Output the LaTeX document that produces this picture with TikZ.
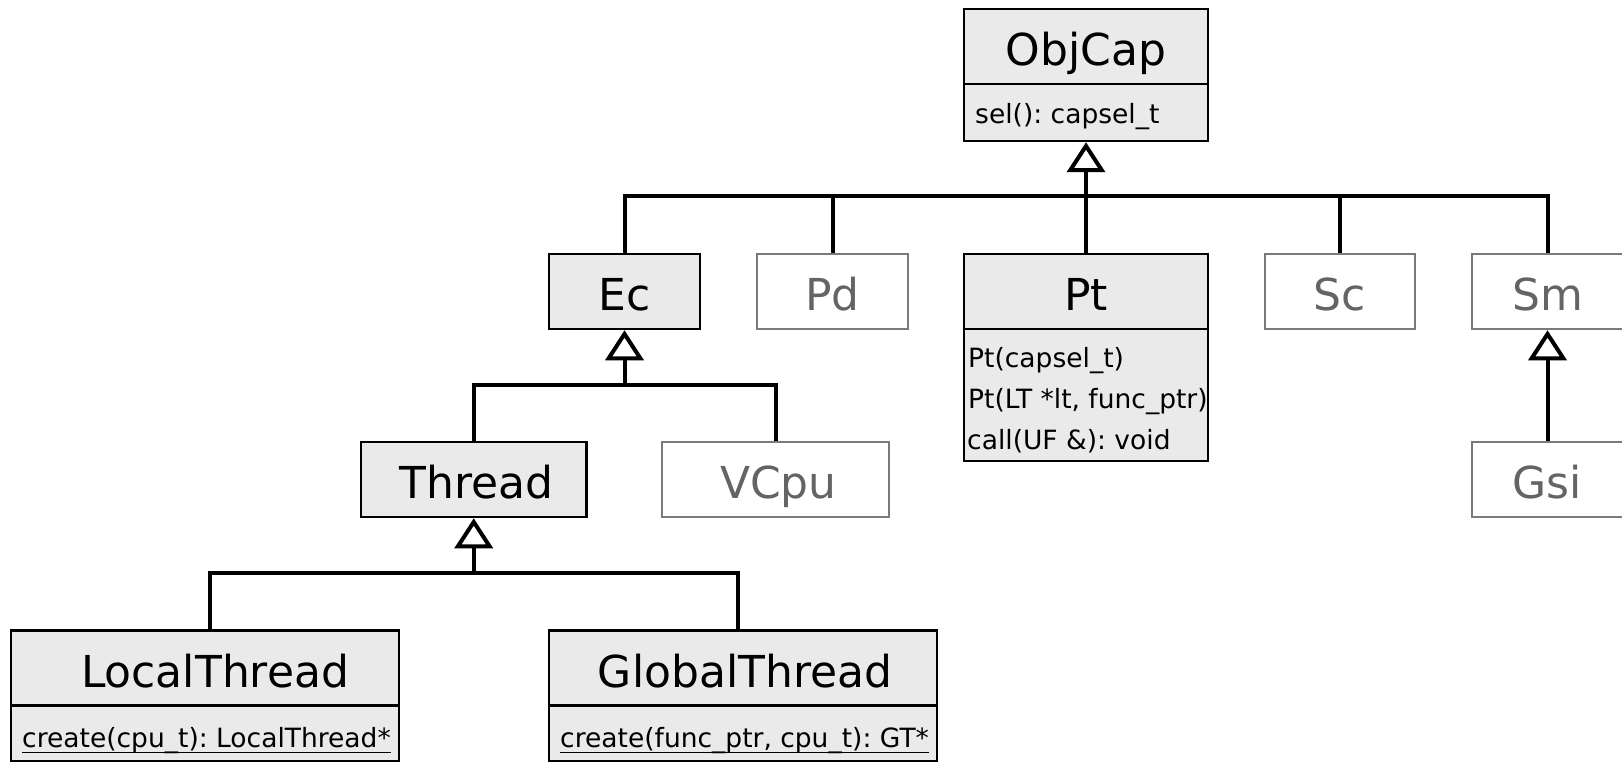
\documentclass[tikz,border=0pt]{standalone}
\usepackage{fontspec}
\setmainfont{DejaVu Sans}
\usetikzlibrary{arrows.meta}
\definecolor{ClassFill}{RGB}{234,234,234}
\definecolor{GhostLine}{RGB}{122,122,122}
\definecolor{GhostText}{RGB}{100,100,100}
\tikzset{
  cls/.style={draw=black,fill=ClassFill,line width=2.5pt,minimum height=75pt,
    inner sep=0pt,text height=42pt,text depth=4pt,font=\fontsize{44}{52}\selectfont},
  ghost/.style={cls,draw=GhostLine,fill=white,text=GhostText},
  ops/.style={draw=black,fill=ClassFill,line width=2.5pt,inner sep=0pt},
  optext/.style={anchor=base west,inner sep=0pt,font=\fontsize{26.5}{31}\selectfont\frenchspacing},
  assoc/.style={draw=black,line width=4pt},
  inherit/.style={assoc,-{Triangle[open,length=30pt,width=38pt]}},
  static/.style={draw=black,line width=1.5pt},
}
\begin{document}
\begin{tikzpicture}[x=1pt,y=-1pt]
  \useasboundingbox (0,0) rectangle (1622,762);
  % root
  \node[cls,minimum width=244pt] (objcap) at (1086,46.5) {ObjCap};
  \node[ops,minimum width=244pt,minimum height=57pt] (objcapops) at (1086,112.5) {};
  \node[optext] (sel) at (975,124) {sel(): capsel\_t};
  % second row
  \node[cls,minimum width=151pt] (ec) at (624.5,291.5) {Ec};
  \node[ghost,minimum width=151pt] (pd) at (832.5,291.5) {Pd};
  \node[cls,minimum width=244pt] (pt) at (1086,291.5) {Pt};
  \node[ops,minimum width=244pt,minimum height=132pt] (ptops) at (1086,395) {};
  \node[optext] (ptops1) at (968,367.7) {Pt(capsel\_t)};
  \node[optext] (ptops2) at (968,408.4) {Pt(LT *lt, func\_ptr)};
  \node[optext] (ptops3) at (967,449) {call(UF \&): void};
  \node[ghost,minimum width=150pt] (sc) at (1340,291.5) {Sc};
  \node[ghost,minimum width=151pt] (sm) at (1547.5,291.5) {Sm};
  % third row
  \node[cls,minimum width=225.5pt] (thread) at (473.75,479.5) {\hspace*{6pt}Thread};
  \node[ghost,minimum width=227pt] (vcpu) at (775.5,479.5) {\hspace*{6pt}VCpu};
  \node[ghost,minimum width=151pt] (gsi) at (1547.5,479.5) {Gsi};
  % bottom row
  \node[cls,minimum width=388pt] (lt) at (205,668) {\hspace*{20pt}LocalThread};
  \node[ops,minimum width=388pt,minimum height=55pt] (ltops) at (205,733.5) {};
  \node[optext] (ltops1) at (22,747) {create(cpu\_t): LocalThread*};
  \node[cls,minimum width=388pt] (gt) at (743,668) {\hspace*{4pt}GlobalThread};
  \node[ops,minimum width=388pt,minimum height=55pt] (gtops) at (743,733.5) {};
  \node[optext] (gtops1) at (560,747) {create(func\_ptr, cpu\_t): GT*};
  \draw[static] ([yshift=-5.3pt]ltops1.base west) -- ([yshift=-5.3pt]ltops1.base east);
  \draw[static] ([yshift=-5.3pt]gtops1.base west) -- ([yshift=-5.3pt]gtops1.base east);
  % generalisations
  \coordinate (objbus) at (1086,196.5);
  \coordinate (ecbus) at (624.5,384.8);
  \coordinate (threadbus) at (473.75,573);
  \foreach \c in {ec,pd,sc,sm} \draw[assoc] (\c.north) |- (objbus);
  \draw[inherit] (pt.north) -- (objcapops.south);
  \foreach \c in {thread,vcpu} \draw[assoc] (\c.north) |- (ecbus);
  \draw[inherit] (ecbus) -- (ec.south);
  \draw[assoc] ([xshift=5pt]lt.north) |- (threadbus);
  \draw[assoc] ([xshift=-5.4pt]gt.north) |- (threadbus);
  \draw[inherit] (threadbus) -- (thread.south);
  \draw[inherit] (gsi.north) -- (sm.south);
\end{tikzpicture}
\end{document}
